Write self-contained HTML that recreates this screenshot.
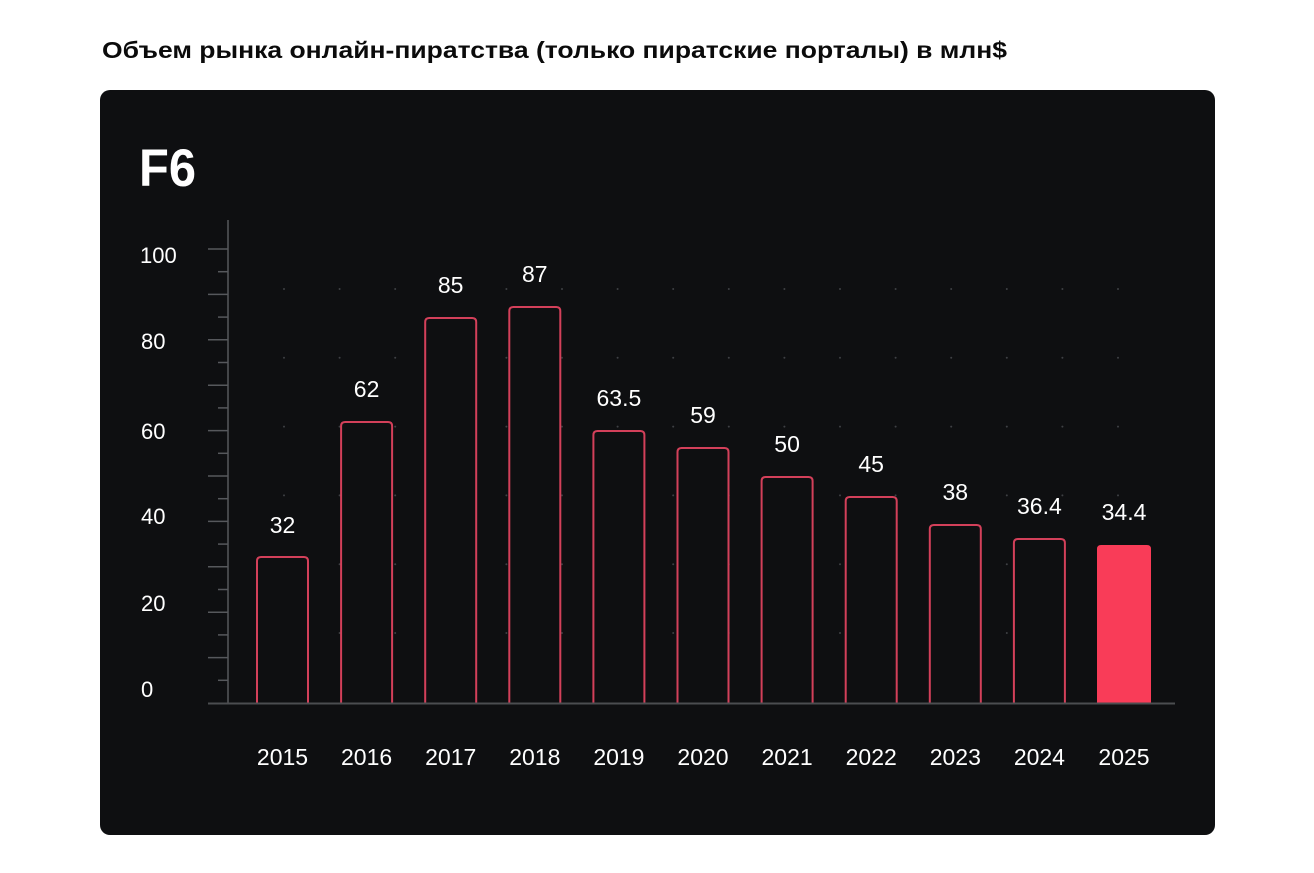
<!DOCTYPE html>
<html><head><meta charset="utf-8"><style>
html,body{margin:0;padding:0;background:#fff;}
svg{display:block;}
</style></head><body>
<svg width="1314" height="873" viewBox="0 0 1314 873" xmlns="http://www.w3.org/2000/svg" font-family="'Liberation Sans', 'Noto Sans CJK SC', sans-serif">
<rect x="0" y="0" width="1314" height="873" fill="#ffffff"/>
<text x="102" y="58" font-size="23.5" font-weight="bold" fill="#0b0b0b" textLength="905" lengthAdjust="spacingAndGlyphs">Объем рынка онлайн-пиратства (только пиратские порталы) в млн$</text>
<rect x="100" y="90" width="1115" height="745" rx="10" ry="10" fill="#0e0f11"/>
<text x="139" y="186" font-size="53" font-weight="bold" fill="#ffffff" textLength="57" lengthAdjust="spacingAndGlyphs">F6</text>
<g stroke="#56585c" stroke-width="1.5">
<line x1="228" y1="220" x2="228" y2="703"/>
<line x1="208" y1="249" x2="228" y2="249"/>
<line x1="218" y1="271.7" x2="228" y2="271.7"/>
<line x1="208" y1="294.4" x2="228" y2="294.4"/>
<line x1="218" y1="317.1" x2="228" y2="317.1"/>
<line x1="208" y1="339.8" x2="228" y2="339.8"/>
<line x1="218" y1="362.5" x2="228" y2="362.5"/>
<line x1="208" y1="385.2" x2="228" y2="385.2"/>
<line x1="218" y1="407.9" x2="228" y2="407.9"/>
<line x1="208" y1="430.6" x2="228" y2="430.6"/>
<line x1="218" y1="453.3" x2="228" y2="453.3"/>
<line x1="208" y1="476" x2="228" y2="476"/>
<line x1="218" y1="498.7" x2="228" y2="498.7"/>
<line x1="208" y1="521.4" x2="228" y2="521.4"/>
<line x1="218" y1="544.1" x2="228" y2="544.1"/>
<line x1="208" y1="566.8" x2="228" y2="566.8"/>
<line x1="218" y1="589.5" x2="228" y2="589.5"/>
<line x1="208" y1="612.2" x2="228" y2="612.2"/>
<line x1="218" y1="634.9" x2="228" y2="634.9"/>
<line x1="208" y1="657.6" x2="228" y2="657.6"/>
<line x1="218" y1="680.3" x2="228" y2="680.3"/>
</g>
<g fill="#3e4044">
<circle cx="284" cy="289" r="1"/><circle cx="339.6" cy="289" r="1"/><circle cx="395.2" cy="289" r="1"/><circle cx="450.8" cy="289" r="1"/><circle cx="506.4" cy="289" r="1"/><circle cx="562" cy="289" r="1"/><circle cx="617.6" cy="289" r="1"/><circle cx="673.2" cy="289" r="1"/><circle cx="728.8" cy="289" r="1"/><circle cx="784.4" cy="289" r="1"/><circle cx="840" cy="289" r="1"/><circle cx="895.6" cy="289" r="1"/><circle cx="951.2" cy="289" r="1"/><circle cx="1006.8" cy="289" r="1"/><circle cx="1062.4" cy="289" r="1"/><circle cx="1118" cy="289" r="1"/>
<circle cx="284" cy="357.8" r="1"/><circle cx="339.6" cy="357.8" r="1"/><circle cx="395.2" cy="357.8" r="1"/><circle cx="450.8" cy="357.8" r="1"/><circle cx="506.4" cy="357.8" r="1"/><circle cx="562" cy="357.8" r="1"/><circle cx="617.6" cy="357.8" r="1"/><circle cx="673.2" cy="357.8" r="1"/><circle cx="728.8" cy="357.8" r="1"/><circle cx="784.4" cy="357.8" r="1"/><circle cx="840" cy="357.8" r="1"/><circle cx="895.6" cy="357.8" r="1"/><circle cx="951.2" cy="357.8" r="1"/><circle cx="1006.8" cy="357.8" r="1"/><circle cx="1062.4" cy="357.8" r="1"/><circle cx="1118" cy="357.8" r="1"/>
<circle cx="284" cy="426.6" r="1"/><circle cx="339.6" cy="426.6" r="1"/><circle cx="395.2" cy="426.6" r="1"/><circle cx="450.8" cy="426.6" r="1"/><circle cx="506.4" cy="426.6" r="1"/><circle cx="562" cy="426.6" r="1"/><circle cx="617.6" cy="426.6" r="1"/><circle cx="673.2" cy="426.6" r="1"/><circle cx="728.8" cy="426.6" r="1"/><circle cx="784.4" cy="426.6" r="1"/><circle cx="840" cy="426.6" r="1"/><circle cx="895.6" cy="426.6" r="1"/><circle cx="951.2" cy="426.6" r="1"/><circle cx="1006.8" cy="426.6" r="1"/><circle cx="1062.4" cy="426.6" r="1"/><circle cx="1118" cy="426.6" r="1"/>
<circle cx="284" cy="495.4" r="1"/><circle cx="339.6" cy="495.4" r="1"/><circle cx="395.2" cy="495.4" r="1"/><circle cx="450.8" cy="495.4" r="1"/><circle cx="506.4" cy="495.4" r="1"/><circle cx="562" cy="495.4" r="1"/><circle cx="617.6" cy="495.4" r="1"/><circle cx="673.2" cy="495.4" r="1"/><circle cx="728.8" cy="495.4" r="1"/><circle cx="784.4" cy="495.4" r="1"/><circle cx="840" cy="495.4" r="1"/><circle cx="895.6" cy="495.4" r="1"/><circle cx="951.2" cy="495.4" r="1"/><circle cx="1006.8" cy="495.4" r="1"/><circle cx="1062.4" cy="495.4" r="1"/><circle cx="1118" cy="495.4" r="1"/>
<circle cx="284" cy="564.2" r="1"/><circle cx="339.6" cy="564.2" r="1"/><circle cx="395.2" cy="564.2" r="1"/><circle cx="450.8" cy="564.2" r="1"/><circle cx="506.4" cy="564.2" r="1"/><circle cx="562" cy="564.2" r="1"/><circle cx="617.6" cy="564.2" r="1"/><circle cx="673.2" cy="564.2" r="1"/><circle cx="728.8" cy="564.2" r="1"/><circle cx="784.4" cy="564.2" r="1"/><circle cx="840" cy="564.2" r="1"/><circle cx="895.6" cy="564.2" r="1"/><circle cx="951.2" cy="564.2" r="1"/><circle cx="1006.8" cy="564.2" r="1"/><circle cx="1062.4" cy="564.2" r="1"/><circle cx="1118" cy="564.2" r="1"/>
<circle cx="284" cy="633" r="1"/><circle cx="339.6" cy="633" r="1"/><circle cx="395.2" cy="633" r="1"/><circle cx="450.8" cy="633" r="1"/><circle cx="506.4" cy="633" r="1"/><circle cx="562" cy="633" r="1"/><circle cx="617.6" cy="633" r="1"/><circle cx="673.2" cy="633" r="1"/><circle cx="728.8" cy="633" r="1"/><circle cx="784.4" cy="633" r="1"/><circle cx="840" cy="633" r="1"/><circle cx="895.6" cy="633" r="1"/><circle cx="951.2" cy="633" r="1"/><circle cx="1006.8" cy="633" r="1"/><circle cx="1062.4" cy="633" r="1"/><circle cx="1118" cy="633" r="1"/>
</g>
<g fill="#ffffff" font-size="22">
<text x="140" y="263">100</text>
<text x="141" y="349">80</text>
<text x="141" y="439">60</text>
<text x="141" y="524">40</text>
<text x="141" y="611">20</text>
<text x="141" y="697">0</text>
</g>
<g fill="#0e0f11" stroke="#d3405a" stroke-width="2">
<path d="M257,703 V561 Q257,557 261,557 H304 Q308,557 308,561 V703"/>
<path d="M341.1,703 V426 Q341.1,422 345.1,422 H388.1 Q392.1,422 392.1,426 V703"/>
<path d="M425.2,703 V322 Q425.2,318 429.2,318 H472.2 Q476.2,318 476.2,322 V703"/>
<path d="M509.3,703 V311 Q509.3,307 513.3,307 H556.3 Q560.3,307 560.3,311 V703"/>
<path d="M593.4,703 V435 Q593.4,431 597.4,431 H640.4 Q644.4,431 644.4,435 V703"/>
<path d="M677.5,703 V452 Q677.5,448 681.5,448 H724.5 Q728.5,448 728.5,452 V703"/>
<path d="M761.6,703 V481 Q761.6,477 765.6,477 H808.6 Q812.6,477 812.6,481 V703"/>
<path d="M845.7,703 V501 Q845.7,497 849.7,497 H892.7 Q896.7,497 896.7,501 V703"/>
<path d="M929.8,703 V529 Q929.8,525 933.8,525 H976.8 Q980.8,525 980.8,529 V703"/>
<path d="M1013.9,703 V543 Q1013.9,539 1017.9,539 H1060.9 Q1064.9,539 1064.9,543 V703"/>
</g>
<path d="M1097,703 V549 Q1097,545 1101,545 H1147 Q1151,545 1151,549 V703 Z" fill="#f93c58"/>
<line x1="208" y1="703.5" x2="1175" y2="703.5" stroke="#4b4d50" stroke-width="2"/>
<g fill="#ffffff" font-size="23" text-anchor="middle">
<text x="282.5" y="533">32</text>
<text x="366.6" y="397">62</text>
<text x="450.7" y="293">85</text>
<text x="534.8" y="282">87</text>
<text x="618.9" y="406">63.5</text>
<text x="703" y="423">59</text>
<text x="787.1" y="452">50</text>
<text x="871.2" y="472">45</text>
<text x="955.3" y="500">38</text>
<text x="1039.4" y="514">36.4</text>
<text x="1124" y="520">34.4</text>
</g>
<g fill="#ffffff" font-size="23" text-anchor="middle">
<text x="282.5" y="765">2015</text>
<text x="366.6" y="765">2016</text>
<text x="450.7" y="765">2017</text>
<text x="534.8" y="765">2018</text>
<text x="618.9" y="765">2019</text>
<text x="703" y="765">2020</text>
<text x="787.1" y="765">2021</text>
<text x="871.2" y="765">2022</text>
<text x="955.3" y="765">2023</text>
<text x="1039.4" y="765">2024</text>
<text x="1124" y="765">2025</text>
</g>
</svg>
</body></html>
